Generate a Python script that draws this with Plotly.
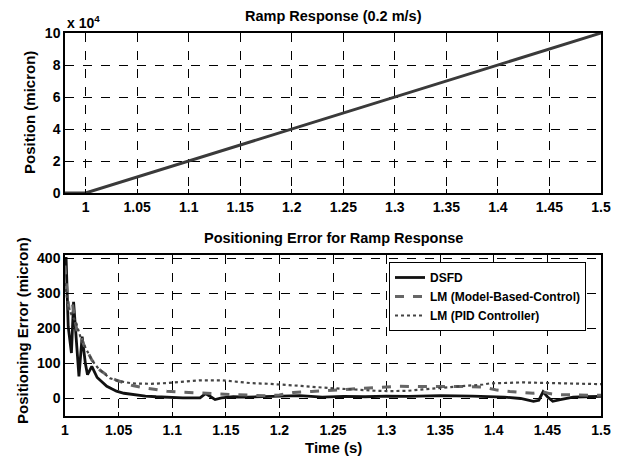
import plotly.graph_objects as go
from plotly.subplots import make_subplots

# ---- Data ----
ramp_time = [0.98, 1.0, 1.5]
ramp_position = [0, 0, 100000]  # micron

t_dsfd = [1.0, 1.001, 1.003, 1.006, 1.008, 1.010, 1.013, 1.016, 1.019, 1.021, 1.025, 1.030,
          1.035, 1.039, 1.044, 1.048, 1.055, 1.064, 1.075, 1.085, 1.096, 1.11, 1.126, 1.131,
          1.136, 1.140, 1.146, 1.157, 1.17, 1.188, 1.2, 1.219, 1.24, 1.26, 1.28, 1.30, 1.32,
          1.35, 1.38, 1.41, 1.425, 1.437, 1.442, 1.446, 1.450, 1.455, 1.462, 1.474, 1.485, 1.5]
e_dsfd = [380, 404, 205, 130, 276, 200, 63, 177, 100, 68, 92, 60,
          45, 35, 27, 21, 15, 11, 7, 5, 3, 2, 2, 14,
          5, -3, 2, 5, 4, 5, 6, 8, 4, 6, 5, 7, 6,
          8, 7, 4, 0, -8, -5, 19, 5, -8, -3, 4, 5, 6]

t_mbc = [1.0, 1.002, 1.004, 1.007, 1.009, 1.012, 1.015, 1.018, 1.020, 1.025, 1.030, 1.033,
         1.040, 1.048, 1.055, 1.063, 1.075, 1.085, 1.095, 1.11, 1.126, 1.14, 1.157, 1.175,
         1.188, 1.2, 1.213, 1.23, 1.25, 1.27, 1.29, 1.31, 1.33, 1.35, 1.37, 1.39, 1.403,
         1.415, 1.427, 1.437, 1.446, 1.452, 1.459, 1.475, 1.49, 1.5]
e_mbc = [380, 300, 250, 270, 230, 180, 175, 150, 140, 110, 90, 80,
         65, 52, 45, 37, 30, 26, 21, 18, 17, 14, 11, 9,
         8, 10, 17, 20, 24, 28, 33, 35, 34, 35, 34, 33, 24,
         20, 17, 15, 19, 14, 11, 10, 11, 9]

t_pid = [1.0, 1.003, 1.006, 1.01, 1.015, 1.02, 1.025, 1.03, 1.035, 1.042, 1.05, 1.063,
         1.08, 1.095, 1.11, 1.126, 1.147, 1.16, 1.173, 1.19, 1.203, 1.22, 1.241, 1.256,
         1.272, 1.29, 1.303, 1.32, 1.334, 1.35, 1.366, 1.381, 1.39, 1.396, 1.41, 1.427,
         1.44, 1.459, 1.48, 1.496, 1.5]
e_pid = [330, 260, 240, 220, 170, 140, 110, 90, 75, 58, 50, 43,
         42, 44, 48, 52, 52, 48, 44, 42, 40, 36, 31, 28,
         24, 22, 21, 22, 26, 30, 32, 37, 40, 43, 45, 46,
         45, 44, 43, 43, 41]

x_ticks = [1.0, 1.05, 1.1, 1.15, 1.2, 1.25, 1.3, 1.35, 1.4, 1.45, 1.5]
x_ticktext = ["1", "1.05", "1.1", "1.15", "1.2", "1.25", "1.3", "1.35", "1.4", "1.45", "1.5"]
pos_ticks = [0, 20000, 40000, 60000, 80000, 100000]
pos_ticktext = ["0", "2", "4", "6", "8", "10"]
err_ticks = [0, 100, 200, 300, 400]

FONT = "Liberation Sans, Arial, sans-serif"
W, H = 619, 457
ML, MR, MT, MB = 65, 18, 33, 41
PW, PH = W - ML - MR, H - MT - MB


def px_x(px):
    return (px - ML) / PW


def px_y(py):
    return 1 - (py - MT) / PH


fig = make_subplots(rows=2, cols=1, vertical_spacing=0.0)

fig.add_trace(go.Scatter(x=ramp_time, y=ramp_position, mode="lines",
                         line=dict(color="#3a3a3a", width=3), showlegend=False),
              row=1, col=1)

fig.add_trace(go.Scatter(x=t_dsfd, y=e_dsfd, mode="lines", name="<b>DSFD</b>",
                         line=dict(color="#111111", width=2.8)), row=2, col=1)
fig.add_trace(go.Scatter(x=t_mbc, y=e_mbc, mode="lines", name="<b>LM (Model-Based-Control)</b>",
                         line=dict(color="#666666", width=3, dash="dash")), row=2, col=1)
fig.add_trace(go.Scatter(x=t_pid, y=e_pid, mode="lines", name="<b>LM (PID Controller)</b>",
                         line=dict(color="#444444", width=2.2, dash="dot")), row=2, col=1)

axis_common = dict(showline=True, mirror=True, linecolor="black", linewidth=1.5,
                   showgrid=True, gridcolor="black", griddash="dash", gridwidth=0.8,
                   ticks="inside", ticklen=4, tickcolor="black", zeroline=False,
                   automargin=False,
                   tickfont=dict(family=FONT, size=14, color="black", weight="bold"))

fig.update_xaxes(**axis_common, tickvals=x_ticks, ticktext=x_ticktext)
fig.update_xaxes(range=[0.98, 1.5], domain=[0, 1], row=1, col=1)
fig.update_xaxes(range=[1.0, 1.5], domain=[0, 1], row=2, col=1)
fig.update_yaxes(**axis_common)
fig.update_yaxes(range=[0, 100000], tickvals=pos_ticks, ticktext=pos_ticktext,
                 domain=[px_y(193), 1.0], row=1, col=1)
fig.update_yaxes(range=[-50, 410], tickvals=err_ticks, domain=[0.0, px_y(255)], row=2, col=1)

ann_font = dict(family=FONT, size=14.5, color="black")
fig.add_annotation(text="<b>Ramp Response (0.2 m/s)</b>", xref="paper", yref="paper",
                   x=px_x(333), y=px_y(16), xanchor="center", yanchor="middle", showarrow=False,
                   font=ann_font)
fig.add_annotation(text="<b>Positioning Error for Ramp Response</b>", xref="paper", yref="paper",
                   x=px_x(333), y=px_y(238), xanchor="center", yanchor="middle", showarrow=False,
                   font=ann_font)
fig.add_annotation(text="<b>x 10<sup>4</sup></b>", xref="paper", yref="paper",
                   x=0.0, y=1.0, xanchor="left", yanchor="bottom", showarrow=False,
                   font=dict(family=FONT, size=14, color="black"))
fig.add_annotation(text="<b>Time (s)</b>", xref="paper", yref="paper",
                   x=px_x(333), y=px_y(447), xanchor="center", yanchor="middle", showarrow=False,
                   font=dict(family=FONT, size=15, color="black"))
fig.add_annotation(text="<b>Position (micron)</b>", xref="paper", yref="paper",
                   x=px_x(30), y=px_y(113), xanchor="center", yanchor="middle", showarrow=False,
                   textangle=-90, font=dict(family=FONT, size=15, color="black"))
fig.add_annotation(text="<b>Positioning Error (micron)</b>", xref="paper", yref="paper",
                   x=px_x(22), y=px_y(331), xanchor="center", yanchor="middle", showarrow=False,
                   textangle=-90, font=dict(family=FONT, size=15, color="black"))

fig.update_layout(
    width=W, height=H,
    margin=dict(l=ML, r=MR, t=MT, b=MB),
    paper_bgcolor="white", plot_bgcolor="white",
    font=dict(family=FONT, color="black"),
    legend=dict(x=px_x(586), y=px_y(262), xanchor="right", yanchor="top",
                bgcolor="white", bordercolor="black", borderwidth=1,
                font=dict(family=FONT, size=12, color="black"),
                tracegroupgap=0, itemwidth=30),
)

fig.write_html("out.html")
